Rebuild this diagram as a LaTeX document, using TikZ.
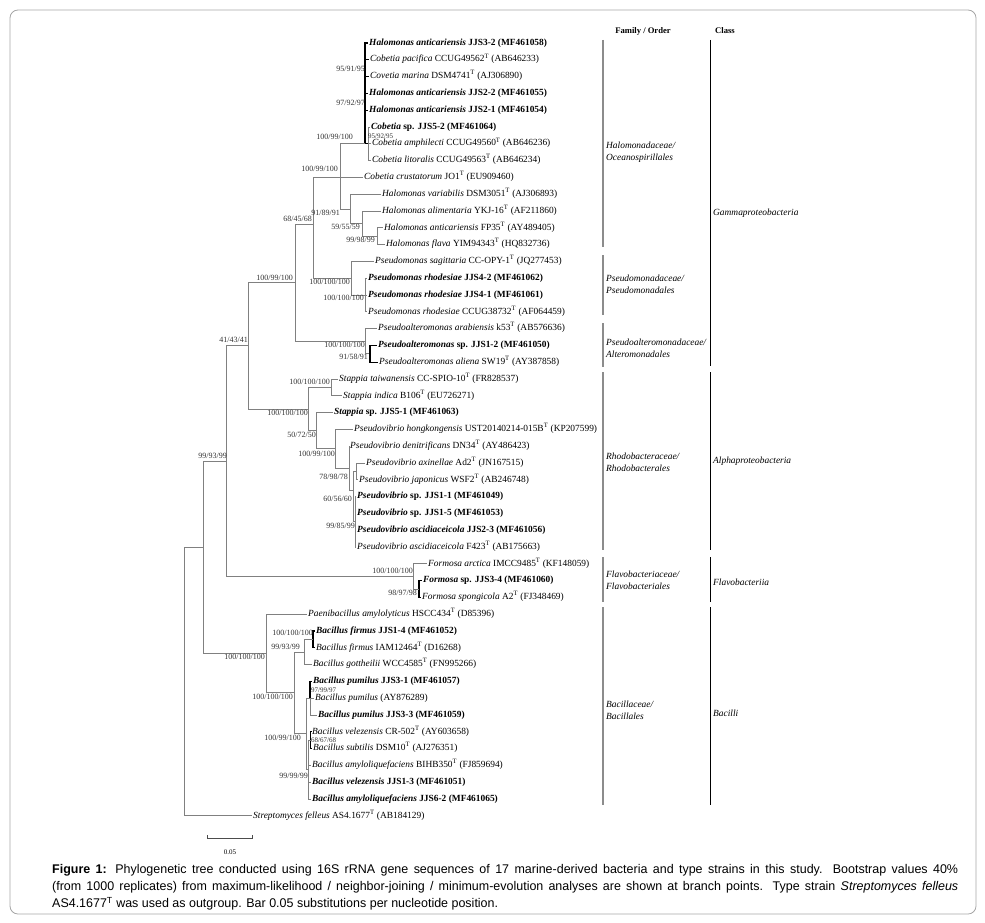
\documentclass[tikz,border=0pt]{standalone}
\usepackage{fontspec}
\setmainfont{Liberation Serif}
\newfontfamily\capfont[FakeStretch=0.99]{Liberation Sans}
\newcommand{\leafN}[2]{\textit{#1} #2}
\newcommand{\leafB}[2]{\textbf{\textit{#1} #2}}
\newcommand{\Tsup}{\textsuperscript{T}}
\begin{document}
\begin{tikzpicture}[x=1pt,y=-1pt]
\tikzset{
 br/.style={draw=black!50, line width=0.8pt},
 dk/.style={draw=black, line width=1.1pt},
 leaf/.style={anchor=west, inner xsep=1pt, inner ysep=0pt, text height=6.6pt, text depth=2.2pt, font=\fontsize{9.4}{11}\selectfont},
 bs/.style={anchor=east, inner sep=0pt, font=\fontsize{8}{9}\selectfont, text=black!80},
 bsw/.style={anchor=west, inner sep=0pt, font=\fontsize{7}{8}\selectfont, text=black!80},
 fam/.style={anchor=west, align=left, inner sep=0pt, font=\fontsize{9.4}{12}\selectfont\itshape},
 famline/.style={draw=black!45, line width=2.4pt},
 clsline/.style={draw=black, line width=0.9pt},
 hdr/.style={font=\fontsize{8.6}{10}\selectfont\bfseries, inner sep=0pt},
 captxt/.style={anchor=west, inner sep=0pt, font=\capfont\fontsize{12.6}{15}\selectfont},
}
\useasboundingbox (0,0) rectangle (985,923);
\draw[draw=black!35, rounded corners=8pt, line width=0.8pt] (10,10) rectangle (976,914);

% leaves
\node[leaf] (l1) at (368,43.0) {\leafB{Halomonas anticariensis}{JJS3-2 (MF461058)}};
\node[leaf] (l2) at (369,59.8) {\leafN{Cobetia pacifica}{CCUG49562\Tsup{} (AB646233)}};
\node[leaf] (l3) at (369,76.6) {\leafN{Covetia marina}{DSM4741\Tsup{} (AJ306890)}};
\node[leaf] (l4) at (368,93.4) {\leafB{Halomonas anticariensis}{JJS2-2 (MF461055)}};
\node[leaf] (l5) at (368,110.2) {\leafB{Halomonas anticariensis}{JJS2-1 (MF461054)}};
\node[leaf] (l6) at (370,127.0) {\leafB{Cobetia}{sp. JJS5-2 (MF461064)}};
\node[leaf] (l7) at (371,143.8) {\leafN{Cobetia amphilecti}{CCUG49560\Tsup{} (AB646236)}};
\node[leaf] (l8) at (371,160.6) {\leafN{Cobetia litoralis}{CCUG49563\Tsup{} (AB646234)}};
\node[leaf] (l9) at (363,177.4) {\leafN{Cobetia crustatorum}{JO1\Tsup{} (EU909460)}};
\node[leaf] (l10) at (381,194.2) {\leafN{Halomonas variabilis}{DSM3051\Tsup{} (AJ306893)}};
\node[leaf] (l11) at (381,211.0) {\leafN{Halomonas alimentaria}{YKJ-16\Tsup{} (AF211860)}};
\node[leaf] (l12) at (383,227.8) {\leafN{Halomonas anticariensis}{FP35\Tsup{} (AY489405)}};
\node[leaf] (l13) at (385,244.6) {\leafN{Halomonas flava}{YIM94343\Tsup{} (HQ832736)}};
\node[leaf] (l14) at (374,261.4) {\leafN{Pseudomonas sagittaria}{CC-OPY-1\Tsup{} (JQ277453)}};
\node[leaf] (l15) at (367,278.2) {\leafB{Pseudomonas rhodesiae}{JJS4-2 (MF461062)}};
\node[leaf] (l16) at (367,295.0) {\leafB{Pseudomonas rhodesiae}{JJS4-1 (MF461061)}};
\node[leaf] (l17) at (367,311.8) {\leafN{Pseudomonas rhodesiae}{CCUG38732\Tsup{} (AF064459)}};
\node[leaf] (l18) at (377,328.6) {\leafN{Pseudoalteromonas arabiensis}{k53\Tsup{} (AB576636)}};
\node[leaf] (l19) at (377,345.4) {\leafB{Pseudoalteromonas}{sp. JJS1-2 (MF461050)}};
\node[leaf] (l20) at (378,362.2) {\leafN{Pseudoalteromonas aliena}{SW19\Tsup{} (AY387858)}};
\node[leaf] (l21) at (338,379.0) {\leafN{Stappia taiwanensis}{CC-SPIO-10\Tsup{} (FR828537)}};
\node[leaf] (l22) at (342,395.8) {\leafN{Stappia indica}{B106\Tsup{} (EU726271)}};
\node[leaf] (l23) at (333,412.6) {\leafB{Stappia}{sp. JJS5-1 (MF461063)}};
\node[leaf] (l24) at (353,429.4) {\leafN{Pseudovibrio hongkongensis}{UST20140214-015B\Tsup{} (KP207599)}};
\node[leaf] (l25) at (349,446.2) {\leafN{Pseudovibrio denitrificans}{DN34\Tsup{} (AY486423)}};
\node[leaf] (l26) at (365,463.0) {\leafN{Pseudovibrio axinellae}{Ad2\Tsup{} (JN167515)}};
\node[leaf] (l27) at (358,479.8) {\leafN{Pseudovibrio japonicus}{WSF2\Tsup{} (AB246748)}};
\node[leaf] (l28) at (356,496.6) {\leafB{Pseudovibrio}{sp. JJS1-1 (MF461049)}};
\node[leaf] (l29) at (356,513.4) {\leafB{Pseudovibrio}{sp. JJS1-5 (MF461053)}};
\node[leaf] (l30) at (356,530.2) {\leafB{Pseudovibrio ascidiaceicola}{JJS2-3 (MF461056)}};
\node[leaf] (l31) at (356,547.0) {\leafN{Pseudovibrio ascidiaceicola}{F423\Tsup{} (AB175663)}};
\node[leaf] (l32) at (427,563.8) {\leafN{Formosa arctica}{IMCC9485\Tsup{} (KF148059)}};
\node[leaf] (l33) at (422,580.6) {\leafB{Formosa}{sp. JJS3-4 (MF461060)}};
\node[leaf] (l34) at (421,597.4) {\leafN{Formosa spongicola}{A2\Tsup{} (FJ348469)}};
\node[leaf] (l35) at (307,614.2) {\leafN{Paenibacillus amylolyticus}{HSCC434\Tsup{} (D85396)}};
\node[leaf] (l36) at (315,631.0) {\leafB{Bacillus firmus}{JJS1-4 (MF461052)}};
\node[leaf] (l37) at (315,647.8) {\leafN{Bacillus firmus}{IAM12464\Tsup{} (D16268)}};
\node[leaf] (l38) at (312,664.6) {\leafN{Bacillus gottheilii}{WCC4585\Tsup{} (FN995266)}};
\node[leaf] (l39) at (312,681.4) {\leafB{Bacillus pumilus}{JJS3-1 (MF461057)}};
\node[leaf] (l40) at (314,698.2) {\leafN{Bacillus pumilus}{(AY876289)}};
\node[leaf] (l41) at (317,715.0) {\leafB{Bacillus pumilus}{JJS3-3 (MF461059)}};
\node[leaf] (l42) at (311,731.8) {\leafN{Bacillus velezensis}{CR-502\Tsup{} (AY603658)}};
\node[leaf] (l43) at (312,748.6) {\leafN{Bacillus subtilis}{DSM10\Tsup{} (AJ276351)}};
\node[leaf] (l44) at (311,765.4) {\leafN{Bacillus amyloliquefaciens}{BIHB350\Tsup{} (FJ859694)}};
\node[leaf] (l45) at (311,782.2) {\leafB{Bacillus velezensis}{JJS1-3 (MF461051)}};
\node[leaf] (l46) at (311,799.0) {\leafB{Bacillus amyloliquefaciens}{JJS6-2 (MF461065)}};
\node[leaf] (l47) at (252,815.8) {\leafN{Streptomyces felleus}{AS4.1677\Tsup{} (AB184129)}};

% internal nodes
\coordinate (A) at (365,143.8);
\coordinate (B) at (368,143.8);
\coordinate (K) at (340,177.4);
\coordinate (E) at (350,208.9);
\coordinate (F) at (362,223.6);
\coordinate (G) at (377,236.2);
\coordinate (Q) at (365,295);
\coordinate (P) at (351,278.2);
\coordinate (GA) at (313,224);
\coordinate (PB) at (370,353.8);
\coordinate (PA) at (365,341.2);
\coordinate (H) at (295,282.6);
\coordinate (SP) at (331,387.4);
\coordinate (WA) at (356,471.4);
\coordinate (X) at (355,521.8);
\coordinate (W) at (353,490);
\coordinate (V) at (349,468);
\coordinate (U) at (335,448.7);
\coordinate (T) at (316,430.6);
\coordinate (S) at (308,409);
\coordinate (NC) at (248,345.8);
\coordinate (FS) at (419,589);
\coordinate (FO) at (413,576.4);
\coordinate (NB) at (226,461.1);
\coordinate (BF) at (313,639.4);
\coordinate (BG) at (304,652);
\coordinate (BP) at (310,698.2);
\coordinate (BVS) at (310.5,740.2);
\coordinate (BV) at (308,769);
\coordinate (BJ) at (306,733.6);
\coordinate (BH) at (294,692.8);
\coordinate (BA) at (266,653.5);
\coordinate (NA) at (203,547);
\coordinate (R) at (184,680);

% branches
\foreach \c in {l1,l2,l3,l4,l5} \draw[dk] (A) |- (\c.west);
\draw[dk] (A) -- (B);
\foreach \c in {l6,l7,l8} \draw[br] (B) |- (\c.west);
\draw[br] (K) |- (A);
\draw[br] (K) |- (l9.west);
\draw[br] (K) |- (E);
\draw[br] (E) |- (l10.west);
\draw[br] (E) |- (F);
\draw[br] (F) |- (l11.west);
\draw[br] (F) |- (G);
\draw[br] (G) |- (l12.west);
\draw[br] (G) |- (l13.west);
\draw[br] (P) |- (l14.west);
\draw[br] (P) |- (Q);
\foreach \c in {l15,l16,l17} \draw[br] (Q) |- (\c.west);
\draw[br] (GA) |- (K);
\draw[br] (GA) |- (P);
\draw[br] (PA) |- (l18.west);
\draw[br] (PA) |- (PB);
\draw[dk] (PB) |- (l19.west);
\draw[dk] (PB) |- (l20.west);
\draw[br] (H) |- (GA);
\draw[br] (H) |- (PA);
\draw[br] (SP) |- (l21.west);
\draw[br] (SP) |- (l22.west);
\draw[br] (WA) |- (l26.west);
\draw[br] (WA) |- (l27.west);
\foreach \c in {l28,l29,l30,l31} \draw[br] (X) |- (\c.west);
\draw[br] (W) |- (WA);
\draw[br] (W) |- (X);
\draw[br] (V) |- (l25.west);
\draw[br] (V) |- (W);
\draw[br] (U) |- (l24.west);
\draw[br] (U) |- (V);
\draw[br] (T) |- (l23.west);
\draw[br] (T) |- (U);
\draw[br] (S) |- (SP);
\draw[br] (S) |- (T);
\draw[br] (NC) |- (H);
\draw[br] (NC) |- (S);
\draw[dk] (FS) |- (l33.west);
\draw[dk] (FS) |- (l34.west);
\draw[br] (FO) |- (l32.west);
\draw[br] (FO) |- (FS);
\draw[br] (NB) |- (NC);
\draw[br] (NB) |- (FO);
\draw[dk] (BF) |- (l36.west);
\draw[dk] (BF) |- (l37.west);
\draw[br] (BG) |- (BF);
\draw[br] (BG) |- (l38.west);
\draw[dk] (BP) |- (l39.west);
\draw[br] (BP) |- (l40.west);
\draw[br] (BP) |- (l41.west);
\draw[dk] (BVS) |- (l42.west);
\draw[dk] (BVS) |- (l43.west);
\draw[br] (BV) |- (BVS);
\draw[br] (BV) |- (l44.west);
\draw[br] (BV) |- (l45.west);
\draw[br] (BV) |- (l46.west);
\draw[br] (BJ) |- (BP);
\draw[br] (BJ) |- (BV);
\draw[br] (BH) |- (BG);
\draw[br] (BH) |- (BJ);
\draw[br] (BA) |- (l35.west);
\draw[br] (BA) |- (BH);
\draw[br] (NA) |- (NB);
\draw[br] (NA) |- (BA);
\draw[br] (R) |- (NA);
\draw[br] (R) |- (l47.west);

% bootstrap values
\node[bs] (b1) at (365,69) {95/91/95};
\node[bs] (b2) at (365,103) {97/92/97};
\node[bs] (b3) at (353,137) {100/99/100};
\node[bsw] (b4) at (368,136.5) {95/92/95};
\node[bs] (b5) at (338,169) {100/99/100};
\node[bs] (b6) at (340,213) {91/89/91};
\node[bs] (b7) at (312,219) {68/45/68};
\node[bs] (b8) at (360,227) {59/55/59};
\node[bs] (b9) at (375,240) {99/98/99};
\node[bs] (b10) at (293,278) {100/99/100};
\node[bs] (b11) at (350,282) {100/100/100};
\node[bs] (b12) at (364,298) {100/100/100};
\node[bs] (b13) at (248,340) {41/43/41};
\node[bs] (b14) at (365,345) {100/100/100};
\node[bs] (b15) at (368,357) {91/58/91};
\node[bs] (b16) at (330,382) {100/100/100};
\node[bs] (b17) at (308,413) {100/100/100};
\node[bs] (b18) at (316,435) {50/72/50};
\node[bs] (b19) at (227,456) {99/93/99};
\node[bs] (b20) at (335,454) {100/99/100};
\node[bs] (b21) at (348,477) {78/98/78};
\node[bs] (b22) at (352,499) {60/56/60};
\node[bs] (b23) at (355,526) {99/85/99};
\node[bs] (b24) at (413,571) {100/100/100};
\node[bs] (b25) at (417,593) {98/97/98};
\node[bs] (b26) at (313,633) {100/100/100};
\node[bs] (b27) at (300,647) {99/93/99};
\node[bs] (b28) at (265,657) {100/100/100};
\node[bs] (b29) at (293,697) {100/100/100};
\node[bsw] (b30) at (311,690.5) {97/99/97};
\node[bs] (b31) at (301,738) {100/99/100};
\node[bsw] (b32) at (311,740.5) {68/67/68};
\node[bs] (b33) at (308,776) {99/99/99};

% scale bar
\coordinate (sb1) at (207,838);
\coordinate (sb2) at (252,838);
\draw[draw=black!70, line width=0.8pt] ([yshift=3pt]sb1) -- (sb1) -- (sb2) -- ([yshift=3pt]sb2);
\node[font=\fontsize{7}{8}\selectfont, inner sep=0pt] (sbl) at (230,852) {0.05};

% headers
\node[hdr] (h1) at (643,31) {Family / Order};
\node[hdr] (h2) at (725,31) {Class};

% family bars
\foreach \a/\b/\n in {40/247/f1,255/315/f2,323/367/f3,372/550/f4,557/602/f5,607/805/f6}{
  \coordinate (\n t) at (603,\a); \coordinate (\n b) at (603,\b);
  \draw[famline] (\n t) -- (\n b);}
\node[fam] (t1) at (606,152) {Halomonadaceae/\\Oceanospirillales};
\node[fam] (t2) at (606,284.5) {Pseudomonadaceae/\\Pseudomonadales};
\node[fam] (t3) at (606,348) {Pseudoalteromonadaceae/\\Alteromonadales};
\node[fam] (t4) at (606,462.5) {Rhodobacteraceae/\\Rhodobacterales};
\node[fam] (t5) at (606,580) {Flavobacteriaceae/\\Flavobacteriales};
\node[fam] (t6) at (606,710.5) {Bacillaceae/\\Bacillales};

% class bars
\foreach \a/\b/\n in {40/366/c1,372/550/c2,557/602/c3,607/805/c4}{
  \coordinate (\n t) at (710,\a); \coordinate (\n b) at (710,\b);
  \draw[clsline] (\n t) -- (\n b);}
\node[fam] (k1) at (713,213) {Gammaproteobacteria};
\node[fam] (k2) at (713,461) {Alphaproteobacteria};
\node[fam] (k3) at (713,582) {Flavobacteriia};
\node[fam] (k4) at (713,713) {Bacilli};

% caption
\node[captxt] (cap1) at (52,870) {\makebox[906pt][s]{\textbf{Figure 1:} Phylogenetic tree conducted using 16S rRNA gene sequences of 17 marine-derived bacteria and type strains in this study. Bootstrap values 40\%}};
\node[captxt] (cap2) at (52,887) {\makebox[906pt][s]{(from 1000 replicates) from maximum-likelihood / neighbor-joining / minimum-evolution analyses are shown at branch points. Type strain \textit{Streptomyces felleus}}};
\node[captxt] (cap3) at (52,904) {AS4.1677\textsuperscript{T} was used as outgroup. Bar 0.05 substitutions per nucleotide position.};
\end{tikzpicture}
\end{document}
